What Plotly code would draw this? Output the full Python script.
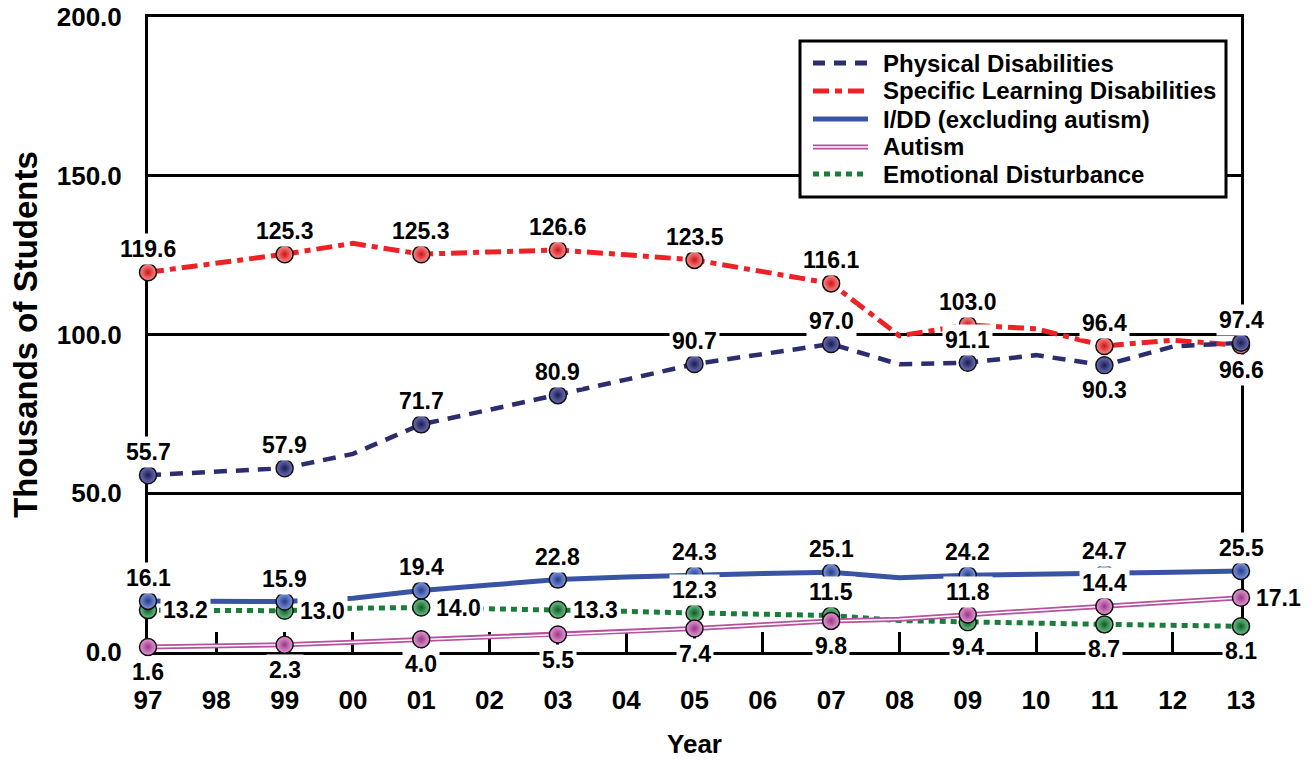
import plotly.graph_objects as go

# ---------------- data ----------------
years = list(range(1997, 2014))
year_labels = [str(y)[-2:] for y in years]

physical = [55.7, 56.8, 57.9, 62.4, 71.7, 76.3, 80.9, 85.8, 90.7, 94.0, 97.0, 90.6, 91.1, 93.5, 90.3, 96.2, 97.4]
learning = [119.6, 122.4, 125.3, 128.7, 125.3, 126.0, 126.6, 125.1, 123.5, 119.8, 116.1, 99.6, 103.0, 101.8, 96.4, 98.2, 96.6]
idd = [16.1, 16.0, 15.9, 16.9, 19.4, 21.1, 22.8, 23.6, 24.3, 24.7, 25.1, 23.4, 24.2, 24.4, 24.7, 25.1, 25.5]
autism = [1.6, 1.9, 2.3, 3.1, 4.0, 4.7, 5.5, 6.4, 7.4, 8.6, 9.8, 10.3, 11.8, 13.1, 14.4, 15.7, 17.1]
emotional = [13.2, 13.1, 13.0, 13.8, 14.0, 13.6, 13.3, 12.8, 12.3, 11.9, 11.5, 9.9, 9.4, 9.0, 8.7, 8.4, 8.1]

y_ticks = [0, 50, 100, 150, 200]

# ---------------- styles ----------------
FONT = "Liberation Sans"
W, H = 1312, 761
L, R, T, B = 148, 71, 17, 109
PW, PH = W - L - R, H - T - B


def px(x):
    return (x - L) / PW


def py(y):
    return (H - B - y) / PH


series = [
    dict(name="Emotional Disturbance", v=emotional, c="#1b7d3c", ml="#6cc487", md="#0f5a27",
         dash="6px,5px", w=5,
         pos=["right", "right", "right", "right", "above", "above", "below", "below", "below"]),
    dict(name="Autism", v=autism, c="#b5519f", ml="#e79ad6", md="#963a85",
         dash="solid", w=5,
         pos=["below", "below", "below", "below", "below", "below", "above", "above", "right"]),
    dict(name="I/DD (excluding autism)", v=idd, c="#3a54a5", ml="#8299e2", md="#263b88",
         dash="solid", w=5,
         pos=["above"] * 9),
    dict(name="Specific Learning Disabilities", v=learning, c="#ec2227", ml="#ff8c8c", md="#cc1418",
         dash="16px,6px,6px,6px", w=5,
         pos=["above"] * 8 + ["below"]),
    dict(name="Physical Disabilities", v=physical, c="#2b2d6e", ml="#6e72bb", md="#1a1c50",
         dash="13px,9px", w=4.5,
         pos=["above"] * 7 + ["below", "above"]),
]

fig = go.Figure()

# lines
for s in series:
    fig.add_trace(go.Scatter(x=years, y=s["v"], mode="lines", name=s["name"], showlegend=False,
                             line=dict(color=s["c"], width=s["w"], dash=s["dash"]),
                             hoverinfo="skip", cliponaxis=False))
    if s["name"] == "Autism":
        fig.add_trace(go.Scatter(x=years, y=s["v"], mode="lines", showlegend=False,
                                 line=dict(color="white", width=1.5),
                                 hoverinfo="skip", cliponaxis=False))

# markers at odd years + value labels
annotations = []
for s in series:
    xs = [yr for i, yr in enumerate(years) if i % 2 == 0]
    vs = [val for i, val in enumerate(s["v"]) if i % 2 == 0]
    fig.add_trace(go.Scatter(x=xs, y=vs, mode="markers", showlegend=False, cliponaxis=False,
                             marker=dict(size=17, color=s["ml"],
                                         gradient=dict(type="radial", color=s["md"]),
                                         line=dict(color="#111111", width=1.5)),
                             hovertemplate="%{y:.1f}<extra>" + s["name"] + "</extra>"))
    for xv, val, p in zip(xs, vs, s["pos"]):
        a = dict(x=xv, y=val, xref="x", yref="y", text=f"{val:.1f}", showarrow=False,
                 font=dict(family=FONT, size=23, color="black", weight="bold"),
                 bgcolor="white", borderpad=2)
        if p == "above":
            a.update(yshift=23, xanchor="center", yanchor="middle")
        elif p == "below":
            a.update(yshift=-25, xanchor="center", yanchor="middle")
        else:
            a.update(xshift=12, xanchor="left", yanchor="middle")
        annotations.append(a)

# ---------------- manual legend ----------------
shapes = [dict(type="rect", xref="paper", yref="paper", x0=px(800), x1=px(1226), y0=py(197), y1=py(41),
               line=dict(color="black", width=3), fillcolor="white", layer="above")]
legend_rows = [
    ("Physical Disabilities", "#2b2d6e", "12px,9px", 5, False),
    ("Specific Learning Disabilities", "#ec2227", "16px,6px,7px,6px", 5, False),
    ("I/DD (excluding autism)", "#3a54a5", "solid", 5, False),
    ("Autism", "#b5519f", "solid", 5, True),
    ("Emotional Disturbance", "#1b7d3c", "6px,5px", 5, False),
]
row_y = [63, 91, 119, 147, 174]
for (name, col, dash, wd, dbl), ry in zip(legend_rows, row_y):
    shapes.append(dict(type="line", xref="paper", yref="paper", x0=px(813), x1=px(868), y0=py(ry), y1=py(ry),
                       line=dict(color=col, width=wd, dash=dash), layer="above"))
    if dbl:
        shapes.append(dict(type="line", xref="paper", yref="paper", x0=px(813), x1=px(868), y0=py(ry), y1=py(ry),
                           line=dict(color="white", width=1.5), layer="above"))
    annotations.append(dict(xref="paper", yref="paper", x=px(881), y=py(ry), text=name, showarrow=False,
                            xanchor="left", yanchor="middle",
                            font=dict(family=FONT, size=24, color="black", weight="bold")))

fig.update_layout(
    width=W, height=H,
    margin=dict(l=L, r=R, t=T, b=B, pad=0),
    paper_bgcolor="white", plot_bgcolor="white",
    font=dict(family=FONT, color="black"),
    showlegend=False,
    shapes=shapes,
    annotations=annotations,
    xaxis=dict(range=[1997, 2013], tickvals=years, ticktext=year_labels, automargin=False,
               ticks="inside", ticklen=20, tickwidth=3, tickcolor="black",
               showline=True, linecolor="black", linewidth=3, mirror=True,
               showgrid=False, zeroline=False, layer="below traces",
               tickfont=dict(family=FONT, size=26, color="black", weight="bold"),
               ticklabelstandoff=23,
               title=dict(text="Year", standoff=21,
                          font=dict(family=FONT, size=26, color="black", weight="bold"))),
    yaxis=dict(range=[0, 200], tickvals=y_ticks, ticktext=[f"{t:.1f}" for t in y_ticks], automargin=False,
               ticks="", showline=True, linecolor="black", linewidth=3, mirror=True,
               showgrid=True, gridcolor="black", gridwidth=3, zeroline=False, layer="below traces",
               tickfont=dict(family=FONT, size=26, color="black", weight="bold"),
               ticklabelstandoff=18,
               title=dict(text="Thousands of Students", standoff=10,
                          font=dict(family=FONT, size=33, color="black", weight="bold"))),
)

fig.write_html("out.html", config={"displayModeBar": False},
               post_script="document.body.style.margin='0';")
